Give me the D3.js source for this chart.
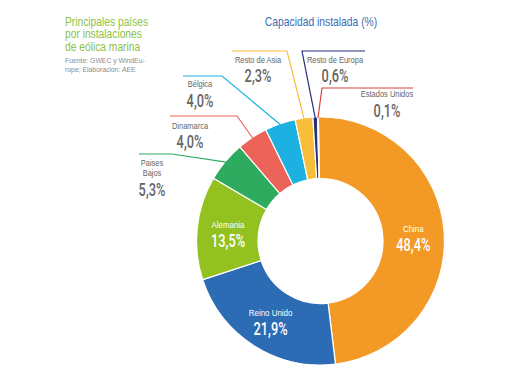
<!DOCTYPE html>
<html><head><meta charset="utf-8">
<script src="https://cdn.jsdelivr.net/npm/d3@7"></script>
<style>body{margin:0;background:#fff}svg{display:block}</style>
</head><body>
<script>
// ---- data ----
const categories = ["China","Reino Unido","Alemania","Paises Bajos","Dinamarca","Bélgica","Resto de Asia","Resto de Europa","Estados Unidos"];
const values = [48.4,21.9,13.5,5.3,4.0,4.0,2.3,0.6,0.1];
const palette = ["#F39A26","#2B6CB5","#93C11F","#2EAB5F","#EC635A","#1DB1E1","#F8BE3A","#27307E","#D8423B"];
const titleLines = ["Principales países","por instalaciones","de eólica marina"];
const sourceLines = ["Fuente: GWEC y WindEu-","rope; Elaboración: AEE"];
const chartTitle = "Capacidad instalada (%)";

const W=510,H=382, cx=320.5, cy=241, rOut=124, rIn=62.5;
const FONT='"Liberation Sans", Arial, sans-serif';
const NUMFONT='Roboto, "Liberation Sans", sans-serif';
const svg=d3.select("body").append("svg").attr("width",W).attr("height",H);
const fmt=v=>d3.format(".1f")(v).replace(".",",")+"%";

function txt(x,y,s,size,color,sx,weight,font){
  const g=svg.append("g").attr("transform",`translate(${x},${y}) scale(${sx},1)`);
  g.append("text").attr("text-anchor","middle").attr("font-family",font||FONT)
   .attr("font-size",size).attr("fill",color).attr("font-weight",weight||"normal").text(s);
}
function txtL(x,y,s,size,color,sx){
  const g=svg.append("g").attr("transform",`translate(${x},${y}) scale(${sx},1)`);
  g.append("text").attr("font-family",FONT).attr("font-size",size).attr("fill",color).text(s);
}

// titles
titleLines.forEach((t,i)=>txtL(65,25.5+i*12.5,t,12.5,"#8DC23F",0.82));
sourceLines.forEach((t,i)=>txtL(65,63+i*9,t,7.2,"#8C8C8C",0.95));
txt(321,26,chartTitle,12,"#3A6CB4",0.86);

// donut
const start=-1*Math.PI/180;
const pie=d3.pie().sort(null).value(d=>d).startAngle(start).endAngle(start+2*Math.PI);
const arcs=pie(values);
const arc=d3.arc().innerRadius(rIn).outerRadius(rOut);
const g=svg.append("g").attr("transform",`translate(${cx},${cy})`);
g.selectAll("path").data(arcs).join("path").attr("d",arc)
 .attr("fill",(d,i)=>palette[i]).attr("stroke","#fff").attr("stroke-width",1.2);

// inner labels (first three slices)
const lab=d3.arc().innerRadius(93).outerRadius(93);
arcs.slice(0,3).forEach((d,i)=>{
  const [x,y]=lab.centroid(d);
  txt(cx+x,cy+y-3,categories[i],9,"#fff",0.88);
  txt(cx+x,cy+y+16,fmt(values[i]),17.5,"#fff",0.73,500,NUMFONT);
});

// outer callouts: layout only (index into data)
const callouts=[
  {i:3, x:152, lines:["Paises","Bajos"], y0:166, numY:196, path:[[139,154],[172,154]]},
  {i:4, x:190, lines:["Dinamarca"], y0:129, numY:148, path:[[170,116],[237,116]]},
  {i:5, x:200, lines:["Bélgica"], y0:87, numY:107, path:[[183,76],[222,76]]},
  {i:6, x:258, lines:["Resto de Asia"], y0:63, numY:82, path:[[232,51],[287,51]]},
  {i:7, x:335, lines:["Resto de Europa"], y0:63, numY:82, path:[[365,51],[302,51]]},
  {i:8, x:387, lines:["Estados Unidos"], y0:97, numY:117, path:[[413,88],[322,88]]}
];
const edge=d3.arc().innerRadius(rOut-1).outerRadius(rOut-1);
callouts.forEach(c=>{
  const d=arcs[c.i];
  const [ex,ey]=edge.centroid(d);
  const pts=c.path.concat([[cx+ex,cy+ey]]);
  svg.append("path").attr("d",d3.line()(pts)).attr("fill","none")
    .attr("stroke",palette[c.i]).attr("stroke-width",1.2);
  c.lines.forEach((l,k)=>txt(c.x,c.y0+k*10,l,8.5,"#666",0.88));
  txt(c.x,c.numY,fmt(values[c.i]),17.5,"#666",0.73,500,NUMFONT);
});
</script>
</body></html>
